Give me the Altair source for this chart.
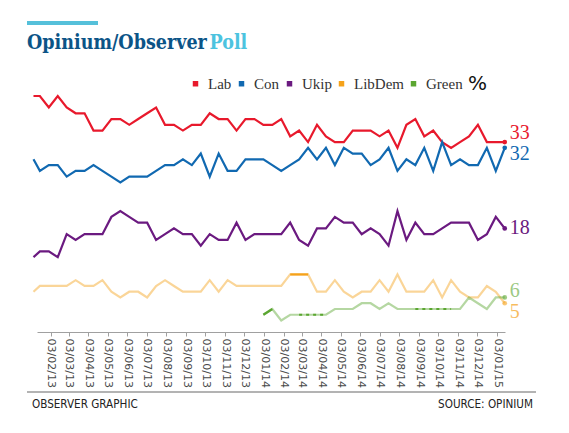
import altair as alt
import pandas as pd

# ---------------- data ----------------
DATES = [
    "2013-01-07", "2013-01-17", "2013-01-31", "2013-02-14", "2013-02-28", "2013-03-14",
    "2013-03-28", "2013-04-11", "2013-04-25", "2013-05-09", "2013-05-23", "2013-06-06",
    "2013-06-20", "2013-07-04", "2013-07-18", "2013-08-01", "2013-08-15", "2013-08-29",
    "2013-09-12", "2013-09-26", "2013-10-10", "2013-10-24", "2013-11-07", "2013-11-21",
    "2013-12-05", "2013-12-19", "2014-01-02", "2014-01-16", "2014-01-30", "2014-02-13",
    "2014-02-27", "2014-03-13", "2014-03-27", "2014-04-10", "2014-04-24", "2014-05-08",
    "2014-05-22", "2014-06-05", "2014-06-19", "2014-07-03", "2014-07-17", "2014-07-31",
    "2014-08-14", "2014-08-28", "2014-09-11", "2014-09-25", "2014-10-09", "2014-10-23",
    "2014-11-06", "2014-11-20", "2014-12-04", "2014-12-18", "2015-01-01", "2015-01-15",
]
LAB = [41, 41, 39, 41, 39, 38, 38, 35, 35, 37, 37, 36, 37, 38, 39, 36, 36, 35,
       36, 36, 38, 37, 37, 35, 37, 37, 36, 36, 37, 34, 35, 33, 36, 34, 33, 33,
       35, 35, 35, 34, 35, 32, 36, 37, 34, 35, 33, 32, 33, 34, 36, 33, 33, 33]
CON = [30, 28, 29, 29, 27, 28, 28, 29, 28, 27, 26, 27, 27, 27, 28, 29, 29, 30,
       29, 31, 27, 31, 28, 28, 30, 30, 30, 29, 28, 29, 30, 32, 30, 32, 29, 32,
       31, 31, 29, 30, 32, 28, 30, 29, 32, 28, 33, 29, 30, 29, 29, 32, 28, 32]
UKIP = [13, 14, 14, 13, 17, 16, 17, 17, 17, 20, 21, 20, 19, 19, 16, 17, 18, 17,
        17, 15, 17, 16, 16, 19, 16, 17, 17, 17, 17, 19, 16, 15, 18, 18, 20, 19,
        19, 17, 18, 17, 15, 21, 16, 19, 17, 17, 18, 19, 19, 19, 16, 17, 20, 18]
LIBDEM = [7, 8, 8, 8, 8, 9, 8, 8, 9, 7, 6, 7, 7, 6, 8, 9, 8, 7,
          7, 7, 9, 7, 9, 8, 8, 8, 8, 8, 8, 10, 10, 10, 7, 7, 9, 7,
          6, 7, 7, 9, 7, 10, 7, 7, 7, 9, 6, 9, 7, 6, 6, 8, 7, 5]
GREEN = [None] * 26 + [3, 4, 2, 3, 3, 3, 3, 3, 4, 4, 4, 5, 5, 4, 5, 4, 4, 4,
                       4, 4, 4, 4, 4, 6, 5, 4, 6, 6]

PARTIES = ["Lab", "Con", "Ukip", "LibDem", "Green"]
COLORS = ["#e8192c", "#1169b1", "#6b1a80", "#f5a21a", "#5ba631"]
PALE = ["LibDem", "Green"]          # drawn as pale lines in the reference
LABEL_DY = [-9, 6, 0, 9, -6]
LABEL_OPACITY = [1, 1, 1, 0.7, 0.6]

# darker stretches of the pale lines
HIGHLIGHT_SOLID = [("LibDem", "2014-02-13", "2014-03-13"), ("Green", "2014-01-02", "2014-01-16")]
HIGHLIGHT_DASH = [("Green", "2014-02-27", "2014-04-10"), ("Green", "2014-08-28", "2014-10-23")]

TICK_DATES = [
    "2013-02-03", "2013-03-03", "2013-04-03", "2013-05-03", "2013-06-03", "2013-07-03",
    "2013-08-03", "2013-09-03", "2013-10-03", "2013-11-03", "2013-12-03", "2014-01-03",
    "2014-02-03", "2014-03-03", "2014-04-03", "2014-05-03", "2014-06-03", "2014-07-03",
    "2014-08-03", "2014-09-03", "2014-10-03", "2014-11-03", "2014-12-03", "2015-01-03",
]
X_DOMAIN = [(2013, 1, 12, 12), (2015, 1, 15, 10)]

TITLE_MAIN = "Opinium/Observer"
TITLE_ACCENT = "Poll"
FOOT_LEFT = "OBSERVER GRAPHIC"
FOOT_RIGHT = "SOURCE: OPINIUM"
UNIT = "%"

# ---------------- tables ----------------
rows = []
for p, series in zip(PARTIES, [LAB, CON, UKIP, LIBDEM, GREEN]):
    for d, v in zip(DATES, series):
        if v is not None:
            rows.append({"date": d, "party": p, "value": v})
df = pd.DataFrame(rows)
df_strong = df[~df.party.isin(PALE)]
df_pale = df[df.party.isin(PALE)]
df_last = df.groupby("party", sort=False).tail(1)
last_strong = df_last[~df_last.party.isin(PALE)]
last_pale = df_last[df_last.party.isin(PALE)]


def pick(ranges):
    parts = []
    for i, (p, a, b) in enumerate(ranges):
        sub = df[(df.party == p) & (df.date >= a) & (df.date <= b)].copy()
        sub["seg"] = i
        parts.append(sub)
    return pd.concat(parts)


df_hl_solid = pick(HIGHLIGHT_SOLID)
df_hl_dash = pick(HIGHLIGHT_DASH)


def dt(s):
    y, m, d = (int(t) for t in s.split("-"))
    return alt.DateTime(year=y, month=m, date=d, utc=True)


x_enc = alt.X(
    "date:T",
    scale=alt.Scale(
        type="utc",
        domain=[alt.DateTime(year=a, month=b, date=c, hours=h, utc=True) for a, b, c, h in X_DOMAIN],
    ),
    axis=alt.Axis(
        values=[dt(s) for s in TICK_DATES],
        format="%d/%m/%y",
        labelAngle=90,
        labelFont="DejaVu Sans",
        labelFontSize=11,
        labelColor="#4a4a4a",
        labelPadding=2,
        labelOverlap=False,
        labelFlush=False,
        domainColor="#a0a0a0",
        domainWidth=1,
        tickColor="#a0a0a0",
        tickSize=4,
        grid=False,
        title=None,
    ),
)
y_enc = alt.Y("value:Q", scale=alt.Scale(domain=[0, 45], nice=False), axis=None)
color_scale = alt.Scale(domain=PARTIES, range=COLORS)
col_nolegend = alt.Color("party:N", scale=color_scale, legend=None)

legend = alt.Legend(
    orient="none", legendX=151, legendY=3, direction="horizontal",
    title=UNIT, titleOrient="right", titleFont="DejaVu Sans", titleFontSize=20,
    titleFontWeight="normal", titleColor="#111111", titlePadding=5,
    titleBaseline="middle", titleAnchor="middle",
    labelFont="Liberation Serif", labelFontSize=15, labelColor="#333333",
    symbolType="square", symbolSize=30, symbolStrokeWidth=0, symbolOpacity=1,
    labelOffset=5, columnPadding=2,
)

# legend-bearing layer comes first so its legend wins the merge
dots_strong = alt.Chart(last_strong).mark_circle(size=22, opacity=1).encode(
    x=x_enc, y=y_enc, color=alt.Color("party:N", scale=color_scale, legend=legend))
dots_pale = alt.Chart(last_pale).mark_circle(size=22, opacity=0.6).encode(
    x=x_enc, y=y_enc, color=col_nolegend)

lines_strong = alt.Chart(df_strong).mark_line(strokeWidth=2.2).encode(
    x=x_enc, y=y_enc, color=col_nolegend)
lines_pale = alt.Chart(df_pale).mark_line(strokeWidth=2.2, opacity=0.45).encode(
    x=x_enc, y=y_enc, color=col_nolegend)
hl_solid = alt.Chart(df_hl_solid).mark_line(strokeWidth=2.2).encode(
    x=x_enc, y=y_enc, detail="seg:N", color=col_nolegend)
hl_dash = alt.Chart(df_hl_dash).mark_line(strokeWidth=2.2, strokeDash=[3, 4]).encode(
    x=x_enc, y=y_enc, detail="seg:N", color=col_nolegend)

labels = []
for p, dy, op in zip(PARTIES, LABEL_DY, LABEL_OPACITY):
    labels.append(
        alt.Chart(df_last[df_last.party == p]).mark_text(
            align="left", baseline="middle", dx=5, dy=dy,
            font="Liberation Serif", fontSize=20, opacity=op,
        ).encode(x=x_enc, y=y_enc, text="value:Q", color=col_nolegend)
    )

one = pd.DataFrame({"k": [0]})
bar = alt.Chart(one).mark_rule(color="#55c0da", strokeWidth=4).encode(
    x=alt.value(-10), x2=alt.value(61), y=alt.value(-50))
title1 = alt.Chart(pd.DataFrame({"t": [TITLE_MAIN]})).mark_text(
    align="left", baseline="alphabetic", font="DejaVu Serif Condensed",
    fontWeight="bold", fontSize=19.5, color="#0b5487",
).encode(x=alt.value(-10), y=alt.value(-24), text="t:N")
title2 = alt.Chart(pd.DataFrame({"t": [TITLE_ACCENT]})).mark_text(
    align="left", baseline="alphabetic", font="DejaVu Serif Condensed",
    fontWeight="bold", fontSize=19.5, color="#4cc3df",
).encode(x=alt.value(172.5), y=alt.value(-24), text="t:N")

foot_rule = alt.Chart(one).mark_rule(color="#9a9a9a", strokeWidth=1.5).encode(
    x=alt.value(-10), x2=alt.value(499), y=alt.value(319))
foot1 = alt.Chart(pd.DataFrame({"t": [FOOT_LEFT]})).mark_text(
    align="left", baseline="alphabetic", font="DejaVu Sans Condensed",
    fontSize=11.6, color="#222222",
).encode(x=alt.value(-5), y=alt.value(335), text="t:N")
foot2 = alt.Chart(pd.DataFrame({"t": [FOOT_RIGHT]})).mark_text(
    align="right", baseline="alphabetic", font="DejaVu Sans Condensed",
    fontSize=11.6, color="#222222",
).encode(x=alt.value(496), y=alt.value(335), text="t:N")

chart = alt.layer(
    dots_strong, lines_pale, lines_strong, hl_solid, hl_dash, dots_pale, *labels,
    bar, title1, title2, foot_rule, foot1, foot2
).properties(
    width=468, height=259,
    autosize=alt.AutoSizeParams(type="none"),
    padding={"left": 29, "top": 65, "right": 56, "bottom": 93},
    background="white",
).configure_view(stroke=None)

chart.save("out.html", embed_options={"renderer": "svg", "actions": False})
